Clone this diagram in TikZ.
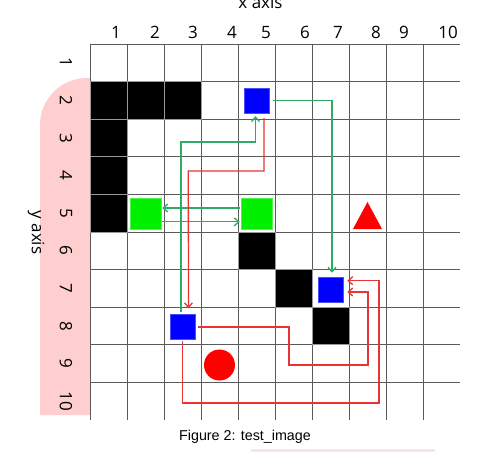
\documentclass[tikz,border=0pt]{standalone}
\usepackage{fontspec}
\setmainfont{Liberation Sans}
\newfontfamily\lblfont{Open Sans}
\usetikzlibrary{arrows.meta}
\definecolor{pinkbg}{RGB}{255,206,206}
\definecolor{gridc}{RGB}{90,90,90}
\definecolor{grn}{RGB}{46,172,102}
\definecolor{rd}{RGB}{232,52,52}
\definecolor{bluef}{RGB}{0,0,255}
\definecolor{limef}{RGB}{0,240,0}
\definecolor{redf}{RGB}{255,0,0}
\begin{document}
\begin{tikzpicture}[x=1pt,y=-1pt,
  gridline/.style={draw=gridc,line width=0.9pt},
  blk/.style={fill=black,draw=gray!80,line width=0.9pt},
  bluesq/.style={fill=bluef,draw=bluef!70!white,line width=0.5pt,minimum size=25pt,inner sep=0pt},
  greensq/.style={fill=limef,draw=limef!70!white,line width=0.5pt,minimum size=31pt,inner sep=0pt},
  tipstyle/.style={-{Straight Barb[length=4.5pt,width=8pt]}},
  garrow/.style={tipstyle,draw=grn,line width=1.3pt},
  rarrow/.style={tipstyle,draw=rd,line width=1.3pt},
  lbl/.style={font=\lblfont\fontsize{17}{20}\selectfont,inner sep=0pt},
  captext/.style={font=\fontsize{14.3}{17}\selectfont,inner sep=0pt}
]
\useasboundingbox (0,0) rectangle (496,452);
\fill[white] (0,0) rectangle (496,452);
% pink band
\fill[pinkbg] (40,415) -- (40,125) arc[start angle=180,end angle=270,radius=47] -- (90,78) -- (90,415) -- cycle;
\fill[pinkbg!60] (251,449) rectangle (435,452);
% grid
\foreach \k in {0,...,9} {
  \draw[gridline] (90,{44+37.6*\k}) -- (460,{44+37.6*\k});
  \draw[gridline] ({90+37*\k},44) -- ({90+37*\k},420);
}
% black cells
\foreach \c/\r in {1/2,2/2,3/2,1/3,1/4,1/5,5/6,6/7,7/8} {
  \draw[blk] ({90+37*(\c-1)},{44+37.6*(\r-1)}) rectangle ++(37,37.6);
}
% axis labels
\node[lbl,anchor=base] (xlab) at (260.5,9) {x axis};
\foreach \n/\x in {1/116,2/155,3/193,4/232,5/266,6/305,7/338,8/376,9/404,10/448} {
  \node[lbl,anchor=base] (cx\n) at (\x,39) {\n};
}
\foreach \n in {1,...,10} {
  \node[lbl,rotate=-90] (ry\n) at (66,{44+37.6*(\n-0.5)}) {\n};
}
\node[lbl,rotate=-90] (ylab) at (36,232.5) {y axis};
\node[captext,anchor=base] (caption) at (245,440) {Figure 2: test\_image};
% objects
\node[bluesq] (b52) at (256.5,100.4) {};
\node[bluesq] (b77) at (330.5,289.5) {};
\node[bluesq] (b38) at (182.5,327) {};
\node[greensq] (g25) at (145.5,213.8) {};
\node[greensq] (g55) at (256.5,213.8) {};
\fill[redf] (353,229) -- (382,229) -- (367.5,202) -- cycle;
\node[circle,fill=redf,minimum size=31pt,inner sep=0pt] (dot) at (219.5,365) {};
% green connectors
\draw[garrow,shorten <=4pt,shorten >=4pt] (b52.east) -- (332,100.4) -- ([xshift=1.5pt]b77.north);
\draw[garrow,shorten <=2pt,shorten >=3pt] ([xshift=-1.5pt]b38.north) -- (181,142) -- (255.5,142) -- ([xshift=-1pt]b52.south);
\draw[garrow,shorten <=1pt,shorten >=1pt] ([yshift=5.8pt]g55.west) -- ([yshift=5.8pt]g25.east);
\draw[garrow,shorten <=1pt,shorten >=1pt] ([yshift=-8pt]g25.east) -- ([yshift=-8pt]g55.west);
% red connectors
\draw[rarrow,shorten <=5pt,shorten >=6pt] ([xshift=7.5pt]b52.south) -- (264,171) -- (188.3,171) -- ([xshift=6pt]b38.north);
\draw[rarrow,shorten <=3pt,shorten >=4pt] (b38.east) -- (289,327) -- (289,365) -- (368,365) -- (368,292) -- ([yshift=-2.5pt]b77.east);
\draw[rarrow,shorten <=1pt,shorten >=4pt] (b38.south) -- (182.5,403) -- (379,403) -- (379,280.7) -- ([yshift=8.8pt]b77.east);
\end{tikzpicture}
\end{document}
